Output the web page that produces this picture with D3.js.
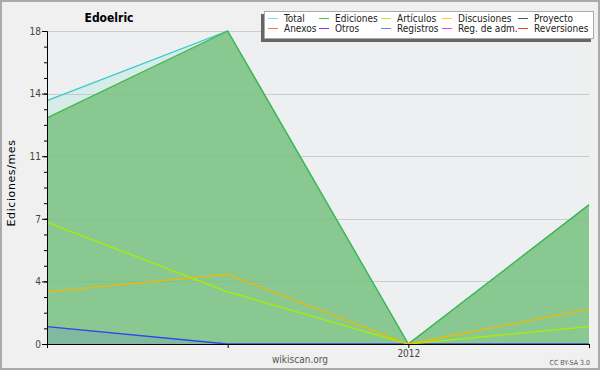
<!DOCTYPE html>
<html>
<head>
<meta charset="utf-8">
<script src="https://cdn.jsdelivr.net/npm/d3@7"></script>
<style>
  body { margin: 0; background: #f0f0f0; }
  svg { display: block; font-family: "DejaVu Sans Condensed", "DejaVu Sans", sans-serif; }
</style>
</head>
<body>
<div id="chart"></div>
<script>
// monthly points, only January gets a label
const months = ["2011-11", "2011-12", "2012-01", "2012-02"];
const monthLabels = ["", "", "2012", ""];

const total = [14, 18, 0, 8];
const edits = [13, 18, 0, 8];
const articles = [7, 3, 0, 1];
const discussions = [3, 4, 0, 2];
const logs = [1, 0, 0, 0];

const yTicks = [0, 3.6, 7.2, 10.8, 14.4, 18];

const legendNames = ["Total", "Anexos", "Ediciones", "Otros", "Artículos", "Registros",
  "Discusiones", "Reg. de adm.", "Proyecto", "Reversiones"];
const legendColors = ["#88dddd", "#ff7733", "#55bb55", "#8833dd", "#bbee22", "#7777ff",
  "#ffcc22", "#dd44ee", "#555555", "#ff3333"];

const W = 600, H = 370;
const svg = d3.select('#chart').append('svg')
  .attr('width', W).attr('height', H);

svg.append('rect')
  .attr('x', 1).attr('y', 1).attr('width', W - 2).attr('height', H - 2)
  .attr('fill', '#f0f0f0').attr('stroke', '#aaa').attr('stroke-width', 2);

const x = d3.scaleLinear().domain([0, months.length - 1]).range([47, 589]);
const y = d3.scaleLinear().domain([0, 18]).range([344, 31]);

// plot background
svg.append('rect')
  .attr('x', x(0)).attr('y', y(18))
  .attr('width', x(3) - x(0)).attr('height', y(0) - y(18))
  .attr('fill', '#eeeff1');

// grid
svg.append('g').selectAll('line')
  .data(yTicks.slice(1))
  .enter().append('line')
  .attr('x1', x(0)).attr('x2', x(3))
  .attr('y1', d => Math.round(y(d)) + 0.5).attr('y2', d => Math.round(y(d)) + 0.5)
  .attr('stroke', '#cccccc');

const area = d3.area().x((d, i) => x(i)).y0(y(0)).y1(d => y(d));
const line = d3.line().x((d, i) => x(i)).y(d => y(d));

const series = [
  {values: total, line: '#33cccc', fill: '#7fdcc8', op: 0.2},
  {values: edits, line: '#3fb84a', fill: '#73bf79', op: 0.78},
  {values: logs, line: '#3344ee', fill: '#3c46ff', op: 0.12},
  {values: articles, line: '#aaee00', fill: null},
  {values: discussions, line: '#f0b800', fill: null}
];

series.forEach(s => {
  if (s.fill) {
    svg.append('path').datum(s.values)
      .attr('d', area)
      .attr('fill', s.fill).attr('fill-opacity', s.op);
  }
  svg.append('path').datum(s.values)
    .attr('d', line)
    .attr('fill', 'none')
    .attr('stroke', s.line).attr('stroke-width', 1.3);
});

// axes
const yAxis = svg.append('g')
  .attr('transform', `translate(${x(0)},0)`)
  .call(d3.axisLeft(y).tickValues(yTicks).tickFormat(d => Math.round(d)).tickSize(5).tickPadding(1));
svg.append('g')
  .attr('transform', `translate(${x(0)},0)`)
  .call(d3.axisLeft(y).tickValues(d3.range(0, 18, 0.9)).tickFormat('').tickSize(3))
  .select('.domain').remove();
const xAxis = svg.append('g')
  .attr('transform', `translate(0,${y(0)})`)
  .call(d3.axisBottom(x).tickValues([0, 1, 2, 3]).tickFormat(i => monthLabels[i]).tickSize(4).tickPadding(2));

[yAxis, xAxis].forEach(g => {
  g.selectAll('text').attr('font-size', 10).attr('fill', '#444')
    .attr('font-family', '"DejaVu Sans Condensed", "DejaVu Sans", sans-serif');
});

svg.append('text')
  .attr('transform', 'translate(15,183) rotate(-90)')
  .attr('text-anchor', 'middle')
  .attr('font-size', 11).attr('letter-spacing', 0.6)
  .attr('font-family', '"DejaVu Sans", sans-serif')
  .text('Ediciones/mes');

svg.append('text')
  .attr('x', 109).attr('y', 22)
  .attr('text-anchor', 'middle')
  .attr('font-size', 12).attr('font-weight', 'bold')
  .text('Edoelric');

svg.append('text')
  .attr('x', 300).attr('y', 363)
  .attr('text-anchor', 'middle')
  .attr('font-size', 10).attr('fill', '#555')
  .text('wikiscan.org');

svg.append('text')
  .attr('x', 590).attr('y', 365)
  .attr('text-anchor', 'end')
  .attr('font-size', 7).attr('fill', '#555')
  .text('CC BY-SA 3.0');

// legend
const legend = svg.append('g');
legend.append('rect')
  .attr('x', 261).attr('y', 14).attr('width', 330).attr('height', 28)
  .attr('fill', '#666');
legend.append('rect')
  .attr('x', 264.5).attr('y', 11.5).attr('width', 329).attr('height', 27)
  .attr('fill', '#fff').attr('stroke', '#aaa');

const colX = [268, 319, 381, 442, 518];
const items = legend.selectAll('.item')
  .data(legendNames)
  .enter().append('g')
  .attr('class', 'item')
  .attr('transform', (d, i) => `translate(${colX[Math.floor(i / 2)]},${i % 2 === 0 ? 18.5 : 28.5})`);
items.append('line')
  .attr('x1', 0).attr('x2', 10)
  .attr('stroke', (d, i) => legendColors[i]).attr('stroke-width', 1);
items.append('text')
  .attr('x', 16).attr('y', 3.5)
  .attr('font-size', 10).attr('fill', '#222')
  .text(d => d);
</script>
</body>
</html>
